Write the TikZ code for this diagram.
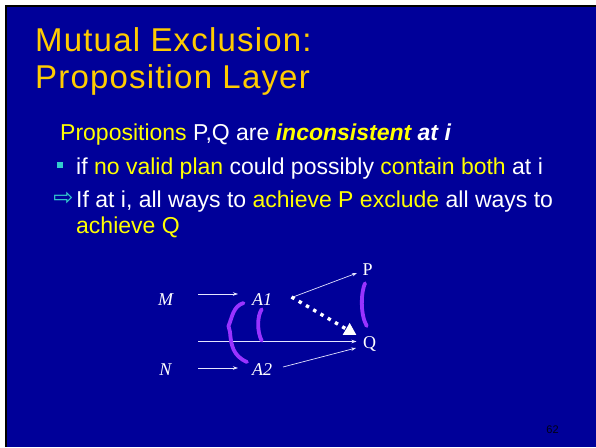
\documentclass[tikz,border=0pt]{standalone}
\usepackage{fontspec}
\setmainfont{Liberation Sans}
\newfontfamily\serifdiag{Liberation Serif}
\newfontfamily\symfont{DejaVu Sans}
\newfontfamily\titlefont[LetterSpace=3.6]{Liberation Sans}
\usetikzlibrary{arrows.meta}
\definecolor{slideblue}{RGB}{0,0,153}
\definecolor{titlegold}{RGB}{255,204,0}
\definecolor{hiyellow}{RGB}{255,255,0}
\definecolor{bullteal}{RGB}{51,204,204}
\definecolor{bracepurple}{RGB}{153,51,255}
\definecolor{pagenum}{RGB}{0,0,20}
\tikzset{
  txt/.style={anchor=base west,inner sep=0pt,text=white},
  ttl/.style={anchor=base west,inner sep=0pt,text=titlegold,font=\titlefont\fontsize{33}{36}\selectfont},
  body/.style={txt,font=\fontsize{23}{26}\selectfont},
  lbl/.style={anchor=base,inner sep=0pt,text=white,font=\serifdiag\fontsize{18}{20}\selectfont},
  ilbl/.style={lbl,font=\serifdiag\itshape\fontsize{18}{20}\selectfont},
  thinarrow/.style={draw=white!90!blue,line width=0.7pt,-{Stealth[length=5pt,width=3.5pt]}},
  dotarrow/.style={draw=white,line width=3.4pt,dash pattern=on 3.4pt off 5pt,-{Triangle[length=12pt,width=13pt]}},
  bracestroke/.style={draw=bracepurple,line width=3.8pt,line cap=round,line join=round}
}
\newcommand{\hy}[1]{\textcolor{hiyellow}{#1}}
\begin{document}
\begin{tikzpicture}[x=1pt,y=-1pt]
\useasboundingbox (0,0) rectangle (596,447);
\fill[white] (0,0) rectangle (596,447);
\fill[black] (5,5) rectangle (596,447);
\fill[slideblue] (7,7) rectangle (596,447);
% title
\node[ttl] (t1) at (35,51) {Mutual Exclusion:};
\node[ttl] (t2) at (35,88) {Proposition Layer};
% body
\node[body] (l1) at (60,140) {\hy{Propositions} P,Q are \textbf{\textit{\hy{inconsistent} at i}}};
\fill[bullteal] (56.5,162) rectangle (62.5,168);
\node[body] (l2) at (76,174) {if \hy{no valid plan} could possibly \hy{contain both} at i};
\node[anchor=center,inner sep=0pt,text=bullteal,font=\symfont\fontsize{24}{26}\selectfont] (ar) at (63.5,199) {⇨};
\node[body] (l3) at (76,207) {If at i, all ways to \hy{achieve P exclude} all ways to};
\node[body] (l4) at (76,233) {\hy{achieve Q}};
% diagram labels
\node[ilbl] (M) at (165.5,305) {M};
\node[ilbl] (A1) at (262,305) {A1};
\node[ilbl] (N) at (165.5,375) {N};
\node[ilbl] (A2) at (262,375) {A2};
\node[lbl] (P) at (367.5,275) {P};
\node[lbl] (Q) at (369.5,348) {Q};
\coordinate (hstart) at (198,341.5);
% connectors
\draw[thinarrow] ([xshift=32.5pt,yshift=11pt]M.base) -- ([xshift=-24pt,yshift=11pt]A1.base);
\draw[thinarrow] ([xshift=32.5pt,yshift=7pt]N.base) -- ([xshift=-24pt,yshift=7pt]A2.base);
\draw[thinarrow] ([xshift=31pt,yshift=8pt]A1.base) -- ([xshift=-10.5pt,yshift=2pt]P.base);
\draw[thinarrow] ([xshift=21pt,yshift=8pt]A2.base) -- ([xshift=-13.5pt,yshift=0pt]Q.base);
\draw[thinarrow] (hstart) -- ([xshift=-13pt,yshift=6.5pt]Q.base);
\draw[dotarrow] ([xshift=29.5pt,yshift=8pt]A1.base) -- ([xshift=-13pt,yshift=13pt]Q.base);
% braces
\draw[bracestroke] (243.5,303) .. controls (233,306) and (232,318) .. (228.5,326) -- (230,332) .. controls (231,345) and (233,356) .. (247,362);
\draw[bracestroke] (261.7,309.3) .. controls (257,316) and (257,332) .. (261.7,340.7);
\draw[bracestroke] (365,283.3) .. controls (361,292) and (360,314) .. (366.7,326);
% page number
\node[anchor=center,inner sep=0pt,text=pagenum,font=\fontsize{11}{12}\selectfont] (pg) at (552.5,430) {62};
\end{tikzpicture}
\end{document}
